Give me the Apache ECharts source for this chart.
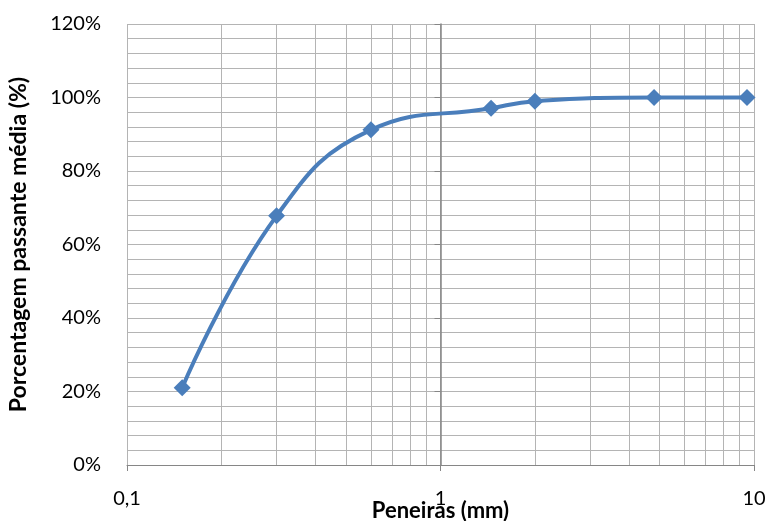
<!DOCTYPE html>
<html>
<head>
<meta charset="utf-8">
<script src="https://cdn.jsdelivr.net/npm/echarts@6/dist/echarts.min.js"></script>
<style>
html,body{margin:0;padding:0;background:#fff;}
#chart{width:773px;height:521px;}
</style>
</head>
<body>
<div id="chart"></div>
<script>
// Data
const sieveSizes = [0.15, 0.3, 0.6, 1.45, 2.0, 4.8, 9.5];
const passingPct = [21, 67.8, 91.2, 97.1, 99, 100, 100];
// Minor log grid positions (2..9 in each decade)
const minorGridX = [0.2,0.3,0.4,0.5,0.6,0.7,0.8,0.9,2,3,4,5,6,7,8,9];

const font = 'Lato, "Open Sans", "DejaVu Sans", sans-serif';
const gridColor = '#b4b4b4';
const axisColor = '#868686';

const chart = echarts.init(document.getElementById('chart'));
chart.setOption({
  animation: false,
  grid: {left: 127, right: 19, top: 24, bottom: 56, outerBoundsMode: 'none', containLabel: false},
  xAxis: {
    type: 'log', logBase: 10, min: 0.1, max: 10,
    name: 'Peneiras (mm)', nameLocation: 'middle', nameGap: 35, nameMoveOverlap: false,
    nameTextStyle: {fontFamily: font, fontSize: 22, fontWeight: 'bold', color: '#000'},
    axisLine: {show: true, lineStyle: {color: axisColor, width: 1}},
    axisTick: {show: true, length: 6, lineStyle: {color: axisColor}},
    axisLabel: {margin: 24, fontFamily: font, fontSize: 20, color: '#000',
      formatter: v => String(v).replace('.', ',')},
    splitLine: {show: true, lineStyle: {color: gridColor, width: 1}},
    minorTick: {show: false}
  },
  yAxis: [{
    type: 'value', min: 0, max: 120, interval: 20,
    name: 'Porcentagem passante média (%)', nameLocation: 'middle', nameGap: 97, nameMoveOverlap: false,
    nameTextStyle: {fontFamily: font, fontSize: 23, fontWeight: 'bold', color: '#000'},
    axisLine: {show: false}, axisTick: {show: false},
    axisLabel: {margin: 26, fontFamily: font, fontSize: 20, color: '#000', formatter: v => v + '%'},
    splitLine: {show: true, lineStyle: {color: gridColor, width: 1}},
    minorTick: {show: false, splitNumber: 5},
    minorSplitLine: {show: true, lineStyle: {color: gridColor, width: 1}}
  }, {
    type: 'value', min: 0, max: 120, interval: 20, position: 'left', offset: -313.5,
    axisLine: {show: true, lineStyle: {color: axisColor, width: 1.5}},
    axisTick: {show: true, length: 6, lineStyle: {color: axisColor}},
    axisLabel: {show: false}, splitLine: {show: false}
  }],
  series: [{
    type: 'line',
    data: sieveSizes.map((x, i) => [x, passingPct[i]]),
    smooth: 0.45,
    symbol: 'diamond', symbolSize: 17,
    itemStyle: {color: '#4a7ebb'},
    lineStyle: {color: '#4a7ebb', width: 4},
    z: 5,
    markLine: {
      silent: true, symbol: 'none', label: {show: false},
      lineStyle: {color: gridColor, width: 1, type: 'solid'},
      data: minorGridX.map(x => ({xAxis: x})),
      z: 1
    }
  }]
});
</script>
</body>
</html>
